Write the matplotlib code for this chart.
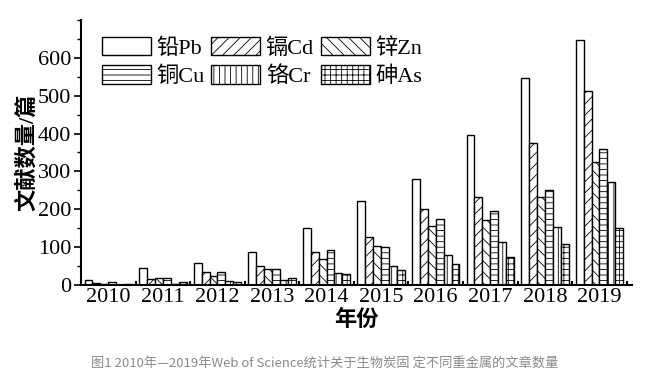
import numpy as np
import matplotlib
matplotlib.use("Agg")
import matplotlib.pyplot as plt
from matplotlib.ticker import MultipleLocator

years = ["2010", "2011", "2012", "2013", "2014", "2015", "2016", "2017", "2018", "2019"]
pb = [13, 44, 57, 87, 150, 221, 281, 396, 548, 646]
cd = [4, 17, 33, 49, 88, 126, 202, 233, 374, 512]
zn = [3, 19, 24, 42, 68, 103, 156, 171, 233, 325]
cu = [9, 19, 34, 42, 92, 101, 174, 196, 251, 360]
cr = [1, 2, 11, 14, 31, 51, 79, 113, 154, 273]
as_ = [3, 8, 9, 18, 30, 40, 55, 75, 107, 150]

series = [
    ("铅Pb", pb, ""),
    ("镉Cd", cd, "///"),
    ("锌Zn", zn, "\\\\\\"),
    ("铜Cu", cu, "---"),
    ("铬Cr", cr, "|||"),
    ("砷As", as_, "+++"),
]

plt.rcParams["font.family"] = ["Liberation Serif", "Noto Sans CJK SC"]
plt.rcParams["hatch.linewidth"] = 0.6
plt.rcParams["axes.linewidth"] = 1.5

fig = plt.figure(figsize=(6.5, 3.81), dpi=100)
ax = fig.add_axes([0.1246, 0.252, 0.848, 0.6955])

x = np.arange(len(years))
width = 0.145
handles = {}
for i, (name, vals, hatch) in enumerate(series):
    offs = (i - 2.5) * width
    b = ax.bar(x + offs, vals, width, color="white", edgecolor="black",
               linewidth=1.0, hatch=hatch, label=name)
    handles[name] = b

ax.set_xlim(-0.5, 9.6)
ax.set_ylim(0, 700)
ax.yaxis.set_major_locator(MultipleLocator(100))
ax.yaxis.set_minor_locator(MultipleLocator(50))
ax.set_yticks(range(0, 700, 100))
ax.set_xticks(x)
ax.set_xticklabels(years)
ax.set_xticks(np.arange(-0.5, 10, 1), minor=True)
ax.tick_params(axis="y", which="major", direction="out", length=5, width=1.2,
               labelsize=16, pad=2)
ax.tick_params(axis="y", which="minor", direction="out", length=3, width=1.0)
ax.tick_params(axis="x", which="major", length=0, labelsize=16, pad=2)
ax.tick_params(axis="x", which="minor", direction="in", length=3, width=1.5)

for s in ["top", "right"]:
    ax.spines[s].set_visible(False)

ax.set_xlabel("年份", fontsize=16, fontweight="bold", labelpad=2)
ax.set_ylabel("文献数量/篇", fontsize=16, fontweight="bold", labelpad=0)

order = ["铅Pb", "铜Cu", "镉Cd", "铬Cr", "锌Zn", "砷As"]
ax.legend([handles[n] for n in order], order, ncol=3, loc="upper left",
          bbox_to_anchor=(0.01, 0.995), frameon=False, fontsize=16,
          handlelength=2.2, handleheight=0.9, handletextpad=0.25,
          columnspacing=0.3, labelspacing=0.3, borderpad=0.2)

fig.text(0.5, 0.048, "图1 2010年—2019年Web of Science统计关于生物炭固 定不同重金属的文章数量",
         ha="center", va="center", fontsize=9.5, color="#8a8a8a",
         family=["Noto Sans CJK SC", "DejaVu Sans"])

fig.savefig("out.png", dpi=100)
